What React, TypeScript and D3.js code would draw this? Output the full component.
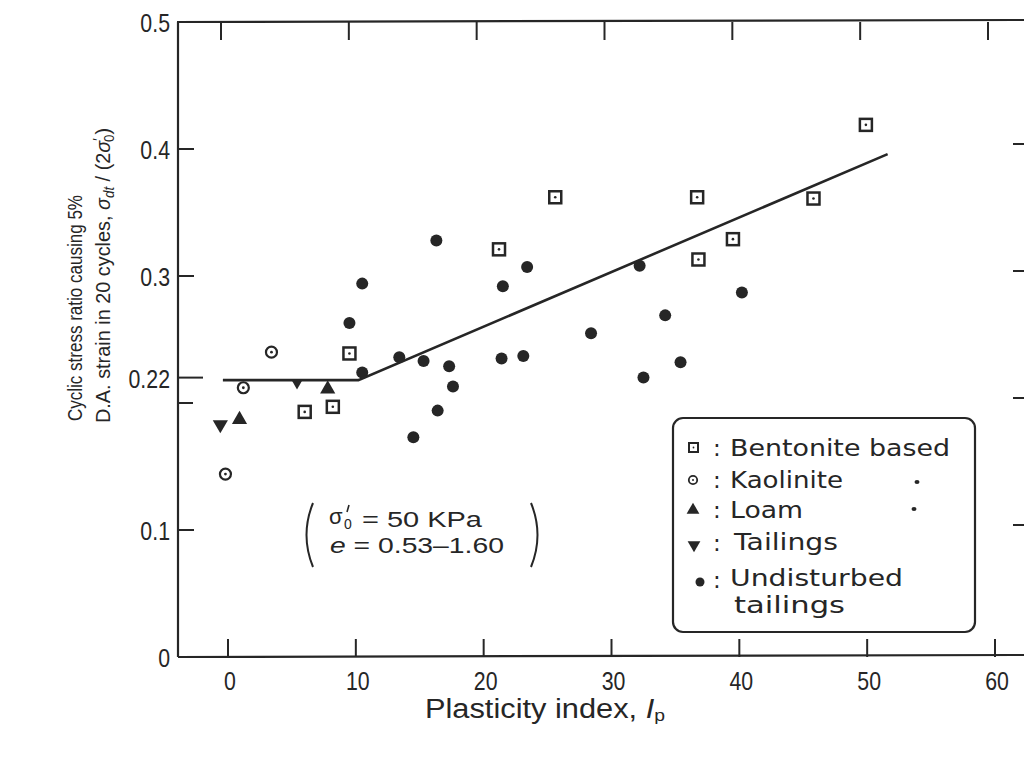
import React from "react";
import * as d3 from "d3";

// ---- data ----
const bentoniteX = [6.0, 8.2, 9.5, 21.2, 25.6, 36.7, 36.8, 39.5, 45.8, 49.9];
const bentoniteY = [0.193, 0.197, 0.239, 0.321, 0.362, 0.362, 0.313, 0.329, 0.361, 0.419];
const kaoliniteX = [3.4, 1.2, -0.2];
const kaoliniteY = [0.24, 0.212, 0.144];
const loamX = [0.9, 7.8];
const loamY = [0.187, 0.211];
const tailingsX = [-0.6, 5.4];
const tailingsY = [0.183, 0.216];
const undisturbedX = [16.3, 10.5, 9.5, 21.5, 23.4, 28.4, 10.5, 13.4, 15.3, 17.3, 17.6, 16.4, 14.5, 21.4, 23.1, 32.2, 34.2, 40.2, 35.4, 32.5];
const undisturbedY = [0.328, 0.294, 0.263, 0.292, 0.307, 0.255, 0.224, 0.236, 0.233, 0.229, 0.213, 0.194, 0.173, 0.235, 0.237, 0.308, 0.269, 0.287, 0.232, 0.22];
const trendX = [-0.4, 10.2, 51.6];
const trendY = [0.218, 0.218, 0.396];
const xTicks = [0, 10, 20, 30, 40, 50, 60];
const yTickValues = [0, 0.1, 0.22, 0.3, 0.4, 0.5];
const yTickLabels = ["0", "0.1", "0.22", "0.3", "0.4", "0.5"];
const yMinorTicks = [0.2];
const rightTicks = [0.1, 0.2, 0.3, 0.4];
const legendLabels = ["Bentonite based", "Kaolinite", "Loam", "Tailings", "Undisturbed", "tailings"];

const INK = "#262626";

export default function App() {
  const x = d3.scaleLinear().domain([0, 60]).range([228, 995]);
  const y = d3.scaleLinear().domain([0, 0.5]).range([657, 22]);
  const line = d3
    .line<number>()
    .x((d) => x(trendX[d]))
    .y((d) => y(trendY[d]));
  const triUp = d3.symbol().type(d3.symbolTriangle).size(100)();
  const triMid = d3.symbol().type(d3.symbolTriangle).size(60)();
  const triLeg = d3.symbol().type(d3.symbolTriangle).size(70)();

  const sans = "'Liberation Sans', Arial, sans-serif";
  const legendFont = "'DejaVu Sans', 'Noto Sans', sans-serif";

  const legendRows = [
    { y: 456, x: 730, len: 220 },
    { y: 488, x: 730, len: 113 },
    { y: 518, x: 730, len: 73 },
    { y: 550, x: 734, len: 104 },
    { y: 586, x: 730, len: 173 },
    { y: 613, x: 734, len: 111 },
  ];

  return (
    <svg
      width={1024}
      height={760}
      style={{ position: "absolute", left: 0, top: 0, background: "#fff" }}
      fontFamily={sans}
    >
      <rect x={0} y={0} width={1024} height={760} fill="#fff" />
      {/* frame */}
      <g stroke={INK} strokeWidth={2.2} fill="none">
        <line x1={177} y1={y(0.5)} x2={1024} y2={y(0.5) - 2} />
        <line x1={178} y1={y(0.5)} x2={178} y2={y(0)} />
        <line x1={178} y1={y(0)} x2={1024} y2={y(0) - 2} />
      </g>
      {/* ticks */}
      <g stroke={INK} strokeWidth={2}>
        {xTicks.map((t) => (
          <line key={"b" + t} x1={x(t)} x2={x(t)} y1={y(0)} y2={y(0) - 18} />
        ))}
        {xTicks.map((t) => (
          <line key={"t" + t} x1={x(t) - 7} x2={x(t) - 7} y1={y(0.5)} y2={y(0.5) + 18} />
        ))}
        {yTickValues.map((t) => (
          <line key={"y" + t} x1={178} x2={t === 0.22 ? 203 : 194} y1={y(t)} y2={y(t)} />
        ))}
        {yMinorTicks.map((t) => (
          <line key={"m" + t} x1={178} x2={193} y1={y(t)} y2={y(t)} />
        ))}
        {rightTicks.map((t) => (
          <line key={"r" + t} x1={1013} x2={1024} y1={y(t) - 5} y2={y(t) - 5} />
        ))}
      </g>
      {/* tick labels (condensed by horizontal scale) */}
      <g fill={INK} fontSize={26}>
        {xTicks.map((t) => (
          <text
            key={"xl" + t}
            transform={`translate(${x(t) + 2},690) scale(0.82,1)`}
            textAnchor="middle"
          >
            {t}
          </text>
        ))}
        {yTickValues.map((t, i) => (
          <text
            key={"yl" + t}
            transform={`translate(170,${y(t) + 10}) scale(0.82,1)`}
            textAnchor="end"
          >
            {yTickLabels[i]}
          </text>
        ))}
      </g>
      {/* axis titles */}
      <text x={425} y={718} fontSize={27} fill={INK} textLength={240} lengthAdjust="spacingAndGlyphs">
        Plasticity index,{" "}
        <tspan fontStyle="italic">I</tspan>
        <tspan fontSize={17} dy={3}>p</tspan>
      </text>
      <g transform="rotate(-90)" fill={INK} fontSize={21}>
        <text x={-421} y={82} textLength={226} lengthAdjust="spacingAndGlyphs">
          Cyclic stress ratio causing 5%
        </text>
        <text x={-423} y={110} textLength={295} lengthAdjust="spacingAndGlyphs">
          D.A. strain in 20 cycles, <tspan fontStyle="italic">σ</tspan>
          <tspan fontSize={14} dy={4} fontStyle="italic">dt</tspan>
          <tspan dy={-4}> / (2</tspan>
          <tspan fontStyle="italic">σ</tspan>
          <tspan fontSize={14} dy={-7}>′</tspan>
          <tspan fontSize={14} dx={-4} dy={11}>0</tspan>
          <tspan dy={-4}>)</tspan>
        </text>
      </g>
      {/* trend line */}
      <path d={line(trendX.map((_, i) => i)) || ""} fill="none" stroke={INK} strokeWidth={2.6} />
      {/* bentonite squares */}
      {bentoniteX.map((v, i) => (
        <g key={"bs" + i} transform={`translate(${x(v)},${y(bentoniteY[i])})`}>
          <rect x={-6} y={-6} width={12} height={12} fill="#fff" stroke={INK} strokeWidth={2.5} />
          <circle r={1.3} fill={INK} />
        </g>
      ))}
      {/* kaolinite */}
      {kaoliniteX.map((v, i) => (
        <g key={"k" + i} transform={`translate(${x(v)},${y(kaoliniteY[i])})`}>
          <circle r={5.5} fill="#fff" stroke={INK} strokeWidth={2.2} />
          <circle r={1.4} fill={INK} />
        </g>
      ))}
      {/* loam */}
      {loamX.map((v, i) => (
        <path key={"l" + i} d={triUp || ""} transform={`translate(${x(v)},${y(loamY[i])})`} fill={INK} />
      ))}
      {/* tailings */}
      {tailingsX.map((v, i) => (
        <path
          key={"t" + i}
          d={(i === 0 ? triUp : triMid) || ""}
          transform={`translate(${x(v)},${y(tailingsY[i])}) rotate(180)`}
          fill={INK}
        />
      ))}
      {/* undisturbed */}
      {undisturbedX.map((v, i) => (
        <circle key={"u" + i} cx={x(v)} cy={y(undisturbedY[i])} r={6} fill={INK} />
      ))}
      {/* annotation */}
      <g fill={INK}>
        <path d="M 313 503 Q 300 535 313 567" fill="none" stroke={INK} strokeWidth={2} />
        <path d="M 531 503 Q 544 535 531 567" fill="none" stroke={INK} strokeWidth={2} />
        <text x={329} y={524} fontSize={22}>σ</text>
        <line x1={349} y1={505} x2={347} y2={512} stroke={INK} strokeWidth={1.6} />
        <text x={344} y={529} fontSize={14}>0</text>
        <text x={362} y={527} fontSize={22} textLength={120} lengthAdjust="spacingAndGlyphs">
          = 50 KPa
        </text>
        <text x={330} y={553} fontSize={22} textLength={174} lengthAdjust="spacingAndGlyphs">
          <tspan fontStyle="italic">e</tspan> = 0.53–1.60
        </text>
      </g>
      {/* legend */}
      <rect x={673} y={418} width={302} height={214} rx={10} ry={10} fill="#fff" stroke={INK} strokeWidth={2.2} />
      <g stroke={INK} fill={INK}>
        <rect x={689} y={443} width={9} height={9} fill="#fff" strokeWidth={2} />
        <circle cx={693.5} cy={447.5} r={0.9} stroke="none" />
        <circle cx={693} cy={480} r={4.2} fill="#fff" strokeWidth={1.8} />
        <circle cx={693} cy={480} r={1} stroke="none" />
        <path d={triLeg || ""} transform="translate(693,510)" stroke="none" />
        <path d={triLeg || ""} transform="translate(694,545) rotate(180)" stroke="none" />
        <circle cx={700} cy={582} r={4.5} stroke="none" />
        <ellipse cx={917} cy={482} rx={2.5} ry={2} stroke="none" />
        <ellipse cx={914} cy={509} rx={2.5} ry={2} stroke="none" />
      </g>
      <g fill={INK} fontSize={23} fontFamily={legendFont}>
        {[448, 480, 510, 543, 580].map((cy, i) => (
          <text key={"c" + i} x={713} y={cy + 8}>
            :
          </text>
        ))}
        {legendLabels.map((lab, i) => (
          <text
            key={"lg" + i}
            x={legendRows[i].x}
            y={legendRows[i].y}
            textLength={legendRows[i].len}
            lengthAdjust="spacingAndGlyphs"
          >
            {lab}
          </text>
        ))}
      </g>
    </svg>
  );
}
